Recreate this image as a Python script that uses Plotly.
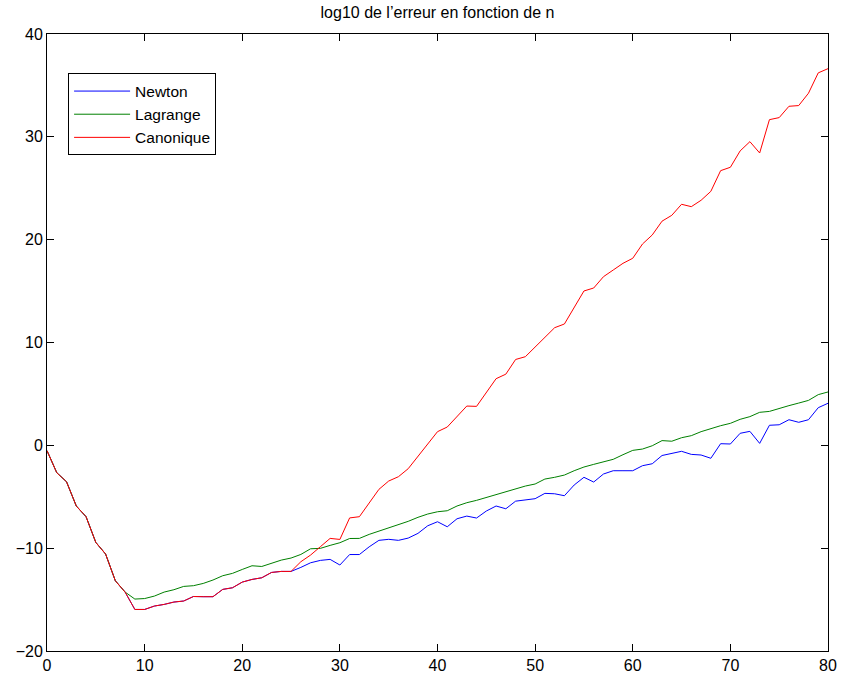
import plotly.graph_objects as go

# Degree of the interpolating polynomial
n = list(range(0, 81))

# log10 of the interpolation error for each method
newton = [
    -0.52, -2.66, -3.54, -5.90, -6.94, -9.44, -10.57, -13.17, -14.27, -15.96,
    -15.96, -15.63, -15.47, -15.24, -15.14, -14.70, -14.72, -14.72, -14.01, -13.85,
    -13.30, -13.04, -12.88, -12.36, -12.26, -12.26, -11.87, -11.42, -11.19, -11.09,
    -11.64, -10.62, -10.62, -9.87, -9.24, -9.14, -9.24, -9.02, -8.56, -7.82,
    -7.43, -7.92, -7.14, -6.88, -7.07, -6.39, -5.90, -6.17, -5.43, -5.32,
    -5.19, -4.67, -4.71, -4.90, -3.86, -3.11, -3.57, -2.79, -2.47, -2.47,
    -2.47, -1.98, -1.79, -0.99, -0.79, -0.58, -0.88, -0.94, -1.26, 0.16,
    0.13, 1.17, 1.36, 0.19, 1.95, 2.00, 2.49, 2.24, 2.49, 3.66,
    4.09,
]
lagrange = [
    -0.52, -2.66, -3.54, -5.90, -6.94, -9.44, -10.57, -13.17, -14.27, -14.95,
    -14.90, -14.66, -14.27, -14.04, -13.72, -13.65, -13.43, -13.10, -12.68, -12.45,
    -12.07, -11.71, -11.78, -11.48, -11.16, -10.96, -10.61, -10.06, -10.02, -9.73,
    -9.47, -9.06, -9.05, -8.66, -8.34, -8.01, -7.75, -7.39, -7.00, -6.68,
    -6.46, -6.36, -5.90, -5.58, -5.35, -5.06, -4.80, -4.53, -4.20, -3.96,
    -3.76, -3.28, -3.11, -2.89, -2.47, -2.11, -1.85, -1.59, -1.36, -0.91,
    -0.49, -0.36, -0.04, 0.46, 0.40, 0.74, 0.94, 1.33, 1.65, 1.91,
    2.14, 2.53, 2.79, 3.21, 3.30, 3.60, 3.86, 4.11, 4.37, 4.93,
    5.19,
]
canonique = [
    -0.52, -2.66, -3.54, -5.90, -6.94, -9.44, -10.57, -13.17, -14.27, -15.96,
    -15.96, -15.63, -15.47, -15.24, -15.14, -14.70, -14.72, -14.72, -14.01, -13.85,
    -13.30, -13.04, -12.88, -12.36, -12.26, -12.26, -11.32, -10.67, -9.86, -9.05,
    -9.15, -7.06, -6.94, -5.64, -4.28, -3.47, -3.05, -2.27, -1.04, 0.10,
    1.33, 1.78, 2.82, 3.82, 3.79, 5.15, 6.48, 6.92, 8.35, 8.62,
    9.53, 10.53, 11.44, 11.80, 13.42, 15.01, 15.30, 16.40, 17.05, 17.70,
    18.19, 19.58, 20.46, 21.80, 22.37, 23.44, 23.21, 23.83, 24.70, 26.71,
    27.04, 28.63, 29.53, 28.43, 31.67, 31.87, 32.97, 33.04, 34.24, 36.22,
    36.63,
]

series = [
    ("Newton", newton, "#0000ff"),
    ("Lagrange", lagrange, "#008000"),
    ("Canonique", canonique, "#ff0000"),
]

font_family = "Liberation Sans, Arial, Helvetica, sans-serif"

fig = go.Figure()
for name, values, color in series:
    fig.add_trace(go.Scatter(
        x=n, y=values, mode="lines", name=name,
        line=dict(color=color, width=1),
    ))

axis_common = dict(
    showgrid=False, zeroline=False, automargin=False,
    showline=True, linecolor="black", linewidth=1, mirror="ticks",
    ticks="inside", ticklen=7, tickwidth=1, tickcolor="black",
    tickfont=dict(family=font_family, size=16, color="black"),
)

fig.update_layout(
    width=842, height=679,
    margin=dict(l=46.5, r=14, t=34, b=28),
    paper_bgcolor="white", plot_bgcolor="white",
    title=dict(
        text="log10 de l\u2019erreur en fonction de n",
        x=0.5, xref="paper", y=1 - 12 / 679, yanchor="middle",
        font=dict(family=font_family, size=16, color="black"),
    ),
    xaxis=dict(range=[0, 80], tickvals=list(range(0, 81, 10)), **axis_common),
    yaxis=dict(range=[-20, 40], tickvals=list(range(-20, 41, 10)), **axis_common),
    showlegend=True,
    legend=dict(
        x=0.027, y=0.936, xanchor="left", yanchor="top",
        bgcolor="white", bordercolor="black", borderwidth=1,
        font=dict(family=font_family, size=15.5, color="black"),
        itemwidth=56, entrywidth=150, tracegroupgap=0,
    ),
)

fig.write_html("out.html")
